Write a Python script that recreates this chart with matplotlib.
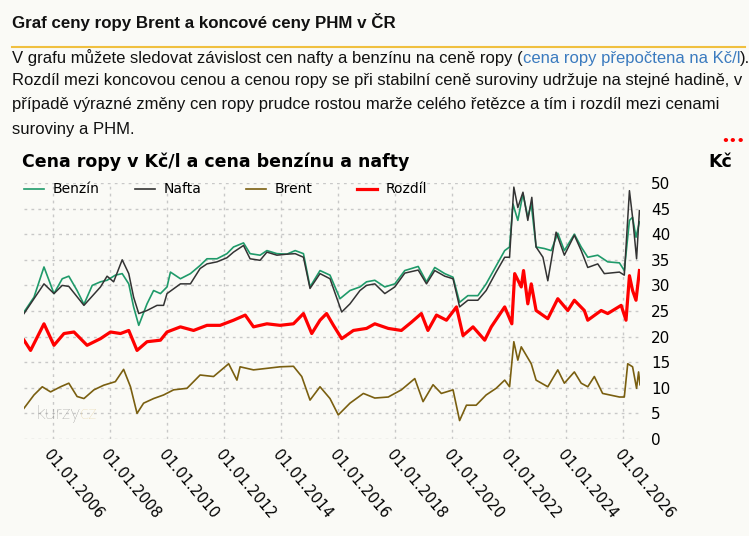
import matplotlib.pyplot as plt
from matplotlib.lines import Line2D

# dates as decimal years, prices in Kč/l
benzin_t = [2005.0, 2005.35, 2005.7, 2006.05, 2006.34, 2006.57, 2006.86, 2007.1, 2007.39, 2007.68,
            2007.91, 2008.2, 2008.44, 2008.67, 2008.84, 2009.02, 2009.31, 2009.54, 2009.78, 2010.01,
            2010.13, 2010.48, 2010.83, 2011.17, 2011.41, 2011.76, 2012.11, 2012.34, 2012.69, 2012.92,
            2013.27, 2013.51, 2013.86, 2014.21, 2014.5, 2014.79, 2015.02, 2015.37, 2015.72, 2016.07,
            2016.42, 2016.77, 2017.0, 2017.29, 2017.64, 2017.99, 2018.34, 2018.81, 2019.1, 2019.39,
            2019.74, 2020.03, 2020.26, 2020.55, 2020.9, 2021.19, 2021.54, 2021.84, 2022.01, 2022.13,
            2022.3, 2022.48, 2022.65, 2022.77, 2022.94, 2023.23, 2023.47, 2023.7, 2023.93, 2024.28,
            2024.52, 2024.75, 2025.1, 2025.45, 2025.86, 2026.03, 2026.21, 2026.32, 2026.44, 2026.56]
benzin = [24.8, 27.7, 33.6, 28.4, 31.3, 31.8, 29.0, 26.3, 30.0, 30.7,
          31.0, 32.0, 32.3, 30.3, 25.8, 22.2, 26.4, 29.0, 28.4, 29.7,
          32.6, 31.3, 32.3, 33.9, 35.2, 35.2, 36.2, 37.5, 38.3, 36.2,
          35.9, 36.8, 36.2, 36.1, 36.8, 36.2, 29.7, 32.9, 32.0, 27.4,
          29.0, 29.7, 30.7, 31.0, 29.7, 30.3, 32.9, 33.7, 30.7, 33.5,
          32.3, 31.6, 26.7, 28.0, 28.0, 30.3, 33.8, 36.8, 37.5, 45.9,
          42.7, 47.9, 43.3, 45.9, 37.5, 37.2, 36.8, 40.2, 36.8, 40.0,
          37.5, 35.5, 35.9, 34.6, 34.4, 32.9, 42.7, 43.3, 39.4, 42.4]

nafta_t = [2005.0, 2005.35, 2005.7, 2006.05, 2006.34, 2006.57, 2007.1, 2007.68, 2007.91, 2008.14,
           2008.44, 2008.67, 2008.84, 2009.02, 2009.31, 2009.66, 2009.89, 2010.01, 2010.48, 2010.83,
           2011.17, 2011.41, 2011.76, 2012.11, 2012.34, 2012.69, 2012.92, 2013.27, 2013.51, 2013.86,
           2014.21, 2014.5, 2014.79, 2015.02, 2015.37, 2015.72, 2016.13, 2016.42, 2016.77, 2017.0,
           2017.29, 2017.64, 2017.99, 2018.34, 2018.81, 2019.1, 2019.39, 2019.74, 2020.03, 2020.26,
           2020.55, 2020.9, 2021.19, 2021.54, 2021.84, 2022.01, 2022.16, 2022.3, 2022.48, 2022.65,
           2022.79, 2022.94, 2023.18, 2023.35, 2023.64, 2023.93, 2024.28, 2024.52, 2024.75, 2025.1,
           2025.33, 2025.86, 2026.03, 2026.21, 2026.32, 2026.46, 2026.56]
nafta = [24.5, 27.4, 30.3, 28.4, 30.0, 29.8, 26.1, 29.7, 31.8, 30.7,
         35.0, 32.3, 27.7, 24.5, 25.1, 26.1, 26.1, 28.4, 30.3, 30.3,
         33.3, 34.2, 34.6, 35.4, 36.5, 37.8, 35.2, 34.9, 36.5, 35.9,
         36.1, 36.2, 35.5, 29.4, 32.3, 31.3, 24.8, 26.4, 29.0, 30.0,
         30.3, 28.4, 29.7, 32.4, 33.0, 30.3, 32.9, 31.8, 31.3, 25.8,
         27.1, 27.1, 29.0, 32.6, 35.5, 35.5, 49.2, 45.2, 48.2, 42.7,
         47.2, 37.5, 35.5, 30.9, 40.4, 35.9, 39.8, 36.8, 33.5, 34.2,
         32.3, 32.6, 32.0, 48.5, 43.3, 35.2, 44.6]

brent_t = [2005.0, 2005.35, 2005.64, 2005.93, 2006.28, 2006.57, 2006.86, 2007.1, 2007.45, 2007.79,
           2008.2, 2008.49, 2008.73, 2008.96, 2009.19, 2009.54, 2009.89, 2010.24, 2010.71, 2011.17,
           2011.64, 2012.17, 2012.46, 2012.57, 2013.04, 2013.51, 2013.97, 2014.44, 2014.73, 2015.02,
           2015.37, 2015.72, 2016.01, 2016.42, 2016.89, 2017.29, 2017.76, 2018.22, 2018.69, 2018.98,
           2019.33, 2019.62, 2020.03, 2020.26, 2020.5, 2020.84, 2021.19, 2021.54, 2021.84, 2022.01,
           2022.16, 2022.3, 2022.42, 2022.77, 2022.94, 2023.35, 2023.7, 2023.93, 2024.28, 2024.52,
           2024.75, 2024.98, 2025.27, 2025.86, 2026.03, 2026.15, 2026.32, 2026.46, 2026.53, 2026.58]
brent = [6.0, 8.6, 10.2, 9.2, 10.2, 10.9, 8.3, 7.9, 9.6, 10.5,
         11.2, 13.6, 10.2, 5.0, 7.0, 7.9, 8.6, 9.6, 9.9, 12.5,
         12.2, 14.7, 11.5, 14.1, 13.5, 13.8, 14.1, 14.2, 12.2, 7.6,
         10.2, 7.9, 4.7, 7.0, 8.9, 8.0, 8.2, 9.6, 11.8, 7.3,
         10.6, 8.9, 9.6, 3.6, 6.6, 6.6, 8.6, 9.9, 11.5, 10.2,
         19.0, 15.4, 18.0, 14.7, 11.5, 10.2, 13.5, 10.9, 13.1, 10.9,
         10.2, 12.2, 8.9, 8.2, 8.2, 14.7, 14.1, 9.9, 13.1, 10.6]

rozdil_t = [2005.0, 2005.23, 2005.7, 2006.05, 2006.4, 2006.75, 2007.21, 2007.68, 2008.03, 2008.38,
            2008.67, 2008.96, 2009.31, 2009.78, 2010.01, 2010.48, 2010.94, 2011.41, 2011.87, 2012.34,
            2012.75, 2013.04, 2013.51, 2013.97, 2014.44, 2014.79, 2015.08, 2015.37, 2015.6, 2015.84,
            2016.13, 2016.54, 2017.0, 2017.29, 2017.76, 2018.22, 2018.57, 2018.92, 2019.15, 2019.45,
            2019.8, 2020.15, 2020.38, 2020.73, 2021.14, 2021.37, 2021.84, 2022.09, 2022.19, 2022.42,
            2022.5, 2022.65, 2022.77, 2022.94, 2023.35, 2023.7, 2024.05, 2024.28, 2024.63, 2024.75,
            2025.22, 2025.45, 2025.92, 2026.09, 2026.21, 2026.32, 2026.44, 2026.56]
rozdil = [19.3, 17.3, 22.5, 18.3, 20.6, 20.9, 18.3, 19.6, 20.9, 20.6,
          21.2, 17.3, 19.0, 19.3, 20.9, 21.9, 21.2, 22.2, 22.2, 23.2,
          24.2, 21.9, 22.5, 22.2, 22.5, 24.5, 20.6, 23.2, 24.5, 22.2,
          19.6, 21.2, 21.6, 22.5, 21.6, 21.2, 22.8, 24.5, 21.2, 24.2,
          23.2, 25.8, 20.2, 21.9, 19.3, 21.9, 25.8, 22.5, 32.3, 29.7,
          32.9, 26.4, 30.3, 25.1, 23.5, 27.4, 25.1, 27.1, 25.1, 23.2,
          25.1, 24.5, 26.1, 23.2, 31.9, 29.0, 27.1, 32.9]

tick_years = [2006, 2008, 2010, 2012, 2014, 2016, 2018, 2020, 2022, 2024, 2026]
tick_labels = ['01.01.%d' % y for y in tick_years]

bg = '#fafaf6'
fig = plt.figure(figsize=(7.49, 5.36), dpi=100, facecolor=bg)

def fx(px):
    return px / 749.0

def fy(py):
    return 1 - py / 536.0

# page header and paragraph
fig.text(fx(12), fy(22), 'Graf ceny ropy Brent a koncové ceny PHM v ČR', family='Liberation Sans',
         weight='bold', size=12.2, va='center', color='#111111')
fig.add_artist(Line2D([fx(12), fx(745)], [fy(47), fy(47)], color='#f0c040', lw=1.5))

body = dict(family='Liberation Sans', size=11.95, va='center', color='#111111')
fig.canvas.draw()
r = fig.canvas.get_renderer()
t1 = fig.text(fx(12), fy(58), 'V grafu můžete sledovat závislost cen nafty a benzínu na ceně ropy (', **body)
bb = t1.get_window_extent(r)
t2 = fig.text(bb.x1 / fig.bbox.width, fy(58), 'cena ropy přepočtena na Kč/l', **{**body, 'color': '#3b7bbf'})
bb2 = t2.get_window_extent(r)
fig.text(bb2.x1 / fig.bbox.width, fy(58), ').', **body)
fig.text(fx(12), fy(81), 'Rozdíl mezi koncovou cenou a cenou ropy se při stabilní ceně suroviny udržuje na stejné hadině, v', **body)
fig.text(fx(12), fy(105), 'případě výrazné změny cen ropy prudce rostou marže celého řetězce a tím i rozdíl mezi cenami', **body)
fig.text(fx(12), fy(129), 'suroviny a PHM.', **body)
fig.text(fx(733), fy(141), '•••', color='red', size=9, ha='center', va='center', weight='bold')

# chart
fig.text(fx(22), fy(162), 'Cena ropy v Kč/l a cena benzínu a nafty', weight='bold', size=12.5, va='center')
fig.text(fx(708), fy(162), 'Kč', weight='bold', size=12.5, va='center')

ax = fig.add_axes([fx(24), fy(439), fx(616), 256 / 536.0])
ax.set_facecolor(bg)
ax.plot(brent_t, brent, color='#7a5f10', lw=1.2)
ax.plot(rozdil_t, rozdil, color='#ff0000', lw=2.3)
ax.plot(benzin_t, benzin, color='#1f9a6a', lw=1.2)
ax.plot(nafta_t, nafta, color='#333333', lw=1.1)
ax.set_xlim(2005.0, 2026.58)
ax.set_ylim(0, 50)
ax.set_xticks(tick_years)
ax.set_xticklabels(tick_labels, rotation=-50, ha='left', va='top', rotation_mode='anchor', size=10.5)
ax.set_yticks(range(0, 51, 5))
ax.yaxis.tick_right()
ax.tick_params(axis='y', labelsize=11, length=0, pad=8)
ax.tick_params(axis='x', length=0, pad=6)
ax.grid(True, color='#c8c8c8', ls=(0, (2, 3)), lw=1)
for s in ax.spines.values():
    s.set_visible(False)

# watermark
k1 = fig.text(fx(36), fy(414), 'kurzy', size=14, color='#666666', family='Lato', weight='light', va='center')
kb = k1.get_window_extent(r)
fig.text(kb.x1 / fig.bbox.width, fy(414), 'cz', size=14, color='#dcc080', family='Lato', weight='light',
         va='center')

# legend
legend_items = [('Benzín', '#1f9a6a', 1.2), ('Nafta', '#333333', 1.2), ('Brent', '#7a5f10', 1.2),
                ('Rozdíl', '#ff0000', 2.3)]
for i, (name, col, lw) in enumerate(legend_items):
    x0 = 24 + i * 111
    fig.add_artist(Line2D([fx(x0), fx(x0 + 20)], [fy(189), fy(189)], color=col, lw=lw))
    fig.text(fx(x0 + 29), fy(189), name, size=10, va='center')

fig.savefig('out.png', dpi=100, facecolor=bg)
